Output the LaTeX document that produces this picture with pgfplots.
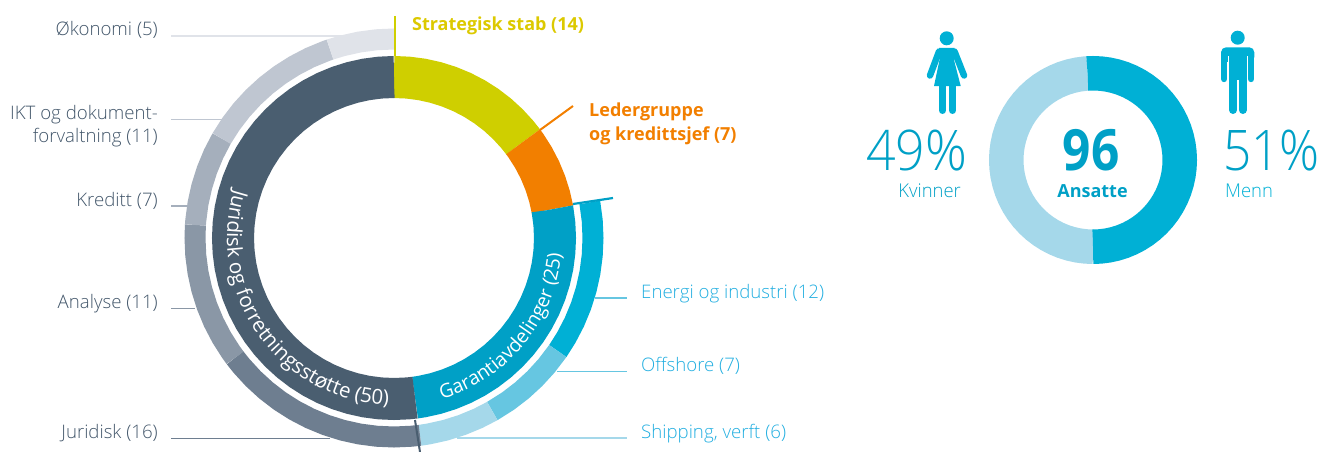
\documentclass[border=0pt]{standalone}
\usepackage{fontspec}
\usepackage{graphicx}
\usepackage{pgfplots}
\pgfplotsset{compat=1.18}
\usepgfplotslibrary{polar}
\usetikzlibrary{decorations.text}
\setmainfont{Open Sans}
\newfontfamily\osl{Open Sans Light}
\newcommand\oss{\bfseries}
\definecolor{cDark}{HTML}{4A5E70}
\definecolor{cOlive}{HTML}{CFCF00}
\definecolor{cOliveT}{HTML}{DCC900}
\definecolor{cOrange}{HTML}{F27F00}
\definecolor{cBlueIn}{HTML}{00A0C6}
\definecolor{cEnergi}{HTML}{00B0D5}
\definecolor{cOff}{HTML}{66C6E1}
\definecolor{cShip}{HTML}{A5D8EA}
\definecolor{cJur}{HTML}{6E7E90}
\definecolor{cAna}{HTML}{8A97A6}
\definecolor{cKre}{HTML}{A5AFBC}
\definecolor{cIkt}{HTML}{BFC6D1}
\definecolor{cOko}{HTML}{E0E3E9}
\definecolor{cText}{HTML}{42566A}
\definecolor{cBlueT}{HTML}{22AEE0}
\definecolor{cPct}{HTML}{00A0C6}
\begin{document}
\begin{tikzpicture}
\useasboundingbox (0,0) rectangle (1320pt,452pt);
% big donut
\begin{polaraxis}[at={(394pt,214pt)},anchor=center,scale only axis,width=420pt,height=420pt,
  xmin=0,xmax=360,ymin=0,ymax=210,hide axis,clip=false]
% inner ring: 14 / 7 / 25 / 50
\addplot[cOlive,line width=42pt,no markers] coordinates {(90,161)(89.9,161)(85,161)(80,161)(75,161)(70,161)(65,161)(60,161)(55,161)(50,161)(45,161)(40,161)(36.8,161)(36.7,161)};
\addplot[cOrange,line width=42pt,no markers] coordinates {(36.7,161)(36.6,161)(35,161)(30,161)(25,161)(20,161)(15,161)(10.4,161)(10.3,161)};
\addplot[cBlueIn,line width=42pt,no markers] coordinates {(10.3,161)(10.2,161)(5,161)(0,161)(355,161)(350,161)(345,161)(340,161)(335,161)(330,161)(325,161)(320,161)(315,161)(310,161)(305,161)(300,161)(295,161)(290,161)(285,161)(280,161)(277.6,161)(277.5,161)};
\addplot[cDark,line width=42pt,no markers] coordinates {(277.5,161)(277.4,161)(275,161)(270,161)(265,161)(260,161)(255,161)(250,161)(245,161)(240,161)(235,161)(230,161)(225,161)(220,161)(215,161)(210,161)(205,161)(200,161)(195,161)(190,161)(185,161)(180,161)(175,161)(170,161)(165,161)(160,161)(155,161)(150,161)(145,161)(140,161)(135,161)(130,161)(125,161)(120,161)(115,161)(110,161)(105,161)(100,161)(95,161)(90.1,161)(90,161)};
% outer ring: 12 / 7 / 6 / 16 / 11 / 7 / 11 / 5
\addplot[cEnergi,line width=21pt,no markers] coordinates {(10.3,199)(10.2,199)(5,199)(0,199)(355,199)(350,199)(345,199)(340,199)(335,199)(330,199)(325.5,199)(325.4,199)};
\addplot[cOff,line width=21pt,no markers] coordinates {(325.4,199)(325.3,199)(320,199)(315,199)(310,199)(305,199)(299.7,199)(299.6,199)};
\addplot[cShip,line width=21pt,no markers] coordinates {(299.6,199)(299.5,199)(295,199)(290,199)(285,199)(280,199)(277.6,199)(277.5,199)};
\addplot[cJur,line width=21pt,no markers] coordinates {(277.5,199)(277.4,199)(275,199)(270,199)(265,199)(260,199)(255,199)(250,199)(245,199)(240,199)(235,199)(230,199)(225,199)(220,199)(217.1,199)(217,199)};
\addplot[cAna,line width=21pt,no markers] coordinates {(217,199)(216.9,199)(215,199)(210,199)(205,199)(200,199)(195,199)(190,199)(185,199)(180,199)(176.35,199)(176.25,199)};
\addplot[cKre,line width=21pt,no markers] coordinates {(176.25,199)(176.15,199)(175,199)(170,199)(165,199)(160,199)(155,199)(150.1,199)(150,199)};
\addplot[cIkt,line width=21pt,no markers] coordinates {(150,199)(149.9,199)(145,199)(140,199)(135,199)(130,199)(125,199)(120,199)(115,199)(110,199)(108.85,199)(108.75,199)};
\addplot[cOko,line width=21pt,no markers] coordinates {(108.75,199)(108.65,199)(105,199)(100,199)(95,199)(90.1,199)(90,199)};
\end{polaraxis}
% small donut 49 / 51
\begin{polaraxis}[at={(1093pt,292pt)},anchor=center,scale only axis,width=210pt,height=210pt,
  xmin=0,xmax=360,ymin=0,ymax=105,hide axis,clip=false]
\addplot[cShip,line width=34.5pt,no markers] coordinates {(270,86.75)(269.9,86.75)(265,86.75)(260,86.75)(255,86.75)(250,86.75)(245,86.75)(240,86.75)(235,86.75)(230,86.75)(225,86.75)(220,86.75)(215,86.75)(210,86.75)(205,86.75)(200,86.75)(195,86.75)(190,86.75)(185,86.75)(180,86.75)(175,86.75)(170,86.75)(165,86.75)(160,86.75)(155,86.75)(150,86.75)(145,86.75)(140,86.75)(135,86.75)(130,86.75)(125,86.75)(120,86.75)(115,86.75)(110,86.75)(105,86.75)(100,86.75)(95,86.75)(93.7,86.75)(93.6,86.75)};
\addplot[cEnergi,line width=34.5pt,no markers] coordinates {(93.6,86.75)(93.5,86.75)(90,86.75)(85,86.75)(80,86.75)(75,86.75)(70,86.75)(65,86.75)(60,86.75)(55,86.75)(50,86.75)(45,86.75)(40,86.75)(35,86.75)(30,86.75)(25,86.75)(20,86.75)(15,86.75)(10,86.75)(5,86.75)(0,86.75)(355,86.75)(350,86.75)(345,86.75)(340,86.75)(335,86.75)(330,86.75)(325,86.75)(320,86.75)(315,86.75)(310,86.75)(305,86.75)(300,86.75)(295,86.75)(290,86.75)(285,86.75)(280,86.75)(275,86.75)(270.1,86.75)(270,86.75)};
\end{polaraxis}
% overlay in pixel coordinates
\begin{axis}[at={(0pt,0pt)},anchor=south west,scale only axis,width=1320pt,height=452pt,
  xmin=0,xmax=1320,ymin=0,ymax=452,y dir=reverse,hide axis,clip=false]
\addplot[cOko,line width=1.2pt] coordinates {(171,36)(345,36)};
\addplot[cIkt,line width=1.2pt] coordinates {(171,119.5)(222,119.5)};
\addplot[cKre,line width=1.2pt] coordinates {(171,206)(188,206)};
\addplot[cAna,line width=1.2pt] coordinates {(171,308.5)(195,308.5)};
\addplot[cJur,line width=1pt] coordinates {(171,438)(330,438)};
\addplot[cOff,line width=1.2pt] coordinates {(595,298)(627,298)};
\addplot[cOff,line width=1.2pt] coordinates {(557,371.5)(627,371.5)};
\addplot[cShip,line width=1.2pt] coordinates {(457,438)(627,438)};
\addplot[cOlive,line width=2pt] coordinates {(395,16)(395,56)};
\addplot[cOrange,line width=2pt] coordinates {(540,130)(573,106)};
\addplot[cBlueIn,line width=2.2pt] coordinates {(573,204)(613,198)};
\addplot[cDark,line width=2pt] coordinates {(415,420)(420,452)};
\def\lab#1#2#3#4#5{\node[anchor=base #1,inner sep=0pt,text=#2,font=\osl\fontsize{18.65}{20}\selectfont] at (axis cs:#3,#4) {#5};}
\lab{east}{cText}{158}{35.5}{Økonomi (5)}
\lab{east}{cText}{158}{119.5}{IKT og dokument-}
\lab{east}{cText}{158}{142.5}{forvaltning (11)}
\lab{east}{cText}{158}{206}{Kreditt (7)}
\lab{east}{cText}{158}{308.5}{Analyse (11)}
\lab{east}{cText}{158}{438}{Juridisk (16)}
\lab{west}{cBlueT}{641}{298}{Energi og industri (12)}
\lab{west}{cBlueT}{641}{371.5}{Offshore (7)}
\lab{west}{cBlueT}{641}{438}{Shipping, verft (6)}
\def\slab#1#2#3#4{\node[anchor=base west,inner sep=0pt,text=#1,font=\oss\fontsize{18}{20}\selectfont] at (axis cs:#2,#3) {#4};}
\slab{cOliveT}{412}{30.5}{Strategisk stab (14)}
\slab{cOrange}{589}{117}{Ledergruppe}
\slab{cOrange}{589}{140}{og kredittsjef (7)}
\node[anchor=base west,inner sep=0pt,text=cPct,font=\osl\fontsize{56}{60}\selectfont] at (axis cs:866,170) {\scalebox{.925}[1]{49\%}};
\node[anchor=base east,inner sep=0pt,text=cPct,font=\osl\fontsize{56}{60}\selectfont] at (axis cs:1320,170) {\scalebox{.885}[1]{51\%}};
\node[anchor=base east,inner sep=0pt,text=cPct,font=\osl\fontsize{19}{22}\selectfont] at (axis cs:961,197) {\scalebox{.97}[1]{Kvinner}};
\node[anchor=base west,inner sep=0pt,text=cEnergi,font=\osl\fontsize{19}{22}\selectfont] at (axis cs:1225,197) {\scalebox{.97}[1]{Menn}};
\node[anchor=base,inner sep=0pt,text=cPct,font=\oss\fontsize{57}{60}\selectfont] at (axis cs:1091,170) {\scalebox{.87}[1]{96}};
\node[anchor=base,inner sep=0pt,text=cPct,font=\oss\fontsize{18}{20}\selectfont] at (axis cs:1092.5,197) {Ansatte};
% curved labels
\path[decorate,decoration={text along path,text format delimiters={|}{|},
  text={|\fontsize{20.5}{22}\selectfont\color{white}|Juridisk og forretningsstøtte (50)}}]
  (axis cs:394,238) ++(163:167pt) arc[start angle=163,end angle=285,radius=167pt];
\path[decorate,decoration={text along path,text format delimiters={|}{|},
  text={|\fontsize{19.3}{22}\selectfont\color{white}|Garantiavdelinger (25)}}]
  (axis cs:394,238) ++(-73.5:168pt) arc[start angle=-73.5,end angle=5,radius=168pt];
% woman
\fill[cEnergi] (axis cs:946.7,38.3) circle[radius=7pt];
\fill[cEnergi] (axis cs:939,48) -- (axis cs:954.5,48) -- (axis cs:954,60) -- (axis cs:960.7,86) -- (axis cs:934,86) -- (axis cs:939.5,60) -- cycle;
\draw[cEnergi,line width=6.5pt,line cap=round] (axis cs:939,51.5) -- (axis cs:930,75.5);
\draw[cEnergi,line width=6.5pt,line cap=round] (axis cs:954.5,51.5) -- (axis cs:964,75.5);
\draw[cEnergi,line width=7pt,line cap=round] (axis cs:942.5,86) -- (axis cs:942.5,110.5);
\draw[cEnergi,line width=7pt,line cap=round] (axis cs:952.5,86) -- (axis cs:952.5,110.5);
% man
\fill[cEnergi] (axis cs:1237.7,37.7) circle[radius=7pt];
\fill[cEnergi,rounded corners=5pt] (axis cs:1221,62) -- (axis cs:1221,47.3) -- (axis cs:1254.3,47.3) -- (axis cs:1254.3,62) -- cycle;
\fill[white] (axis cs:1227.5,56) rectangle (axis cs:1229,70);
\fill[white] (axis cs:1246.7,56) rectangle (axis cs:1248.2,70);
\draw[cEnergi,line width=6.4pt,line cap=round] (axis cs:1224.2,56) -- (axis cs:1224.2,79);
\draw[cEnergi,line width=6.4pt,line cap=round] (axis cs:1251.1,56) -- (axis cs:1251.1,79);
\fill[cEnergi] (axis cs:1229,50) rectangle (axis cs:1246.7,80);
\draw[cEnergi,line width=8pt,line cap=round] (axis cs:1233,78) -- (axis cs:1233,110);
\draw[cEnergi,line width=8pt,line cap=round] (axis cs:1242.7,78) -- (axis cs:1242.7,110);
\end{axis}
\end{tikzpicture}
\end{document}
